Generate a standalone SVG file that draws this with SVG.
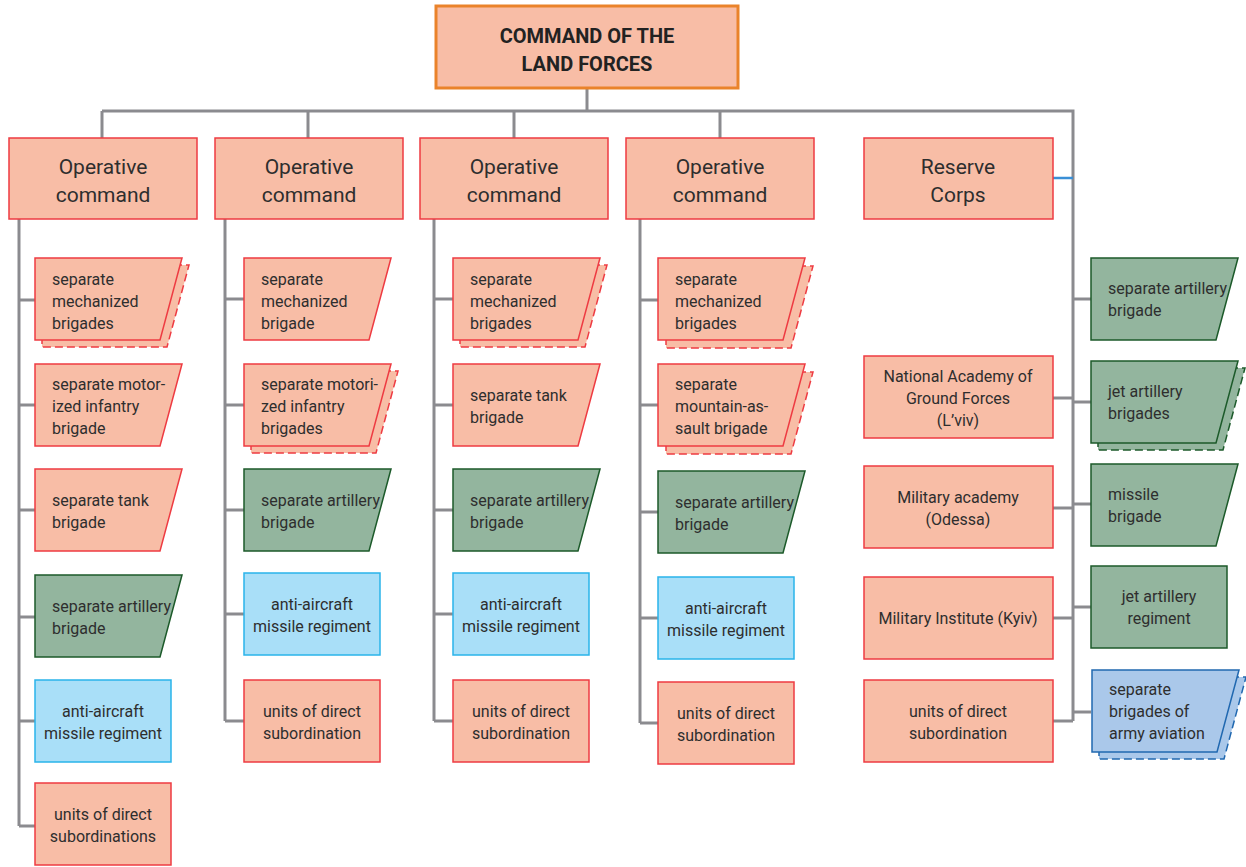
<svg xmlns="http://www.w3.org/2000/svg" width="1246" height="867" viewBox="0 0 1246 867">
<style>
.bg{fill:#ffffff}
.red{fill:#F8BDA6;stroke:#EE3B42;stroke-width:1.5}
.redsh{fill:#F8BDA6;stroke:#EE3B42;stroke-width:1.5;stroke-dasharray:8 4}
.top{fill:#F8BDA6;stroke:#EA832B;stroke-width:3}
.grn{fill:#93B59E;stroke:#1C5A2A;stroke-width:1.5}
.grnsh{fill:#93B59E;stroke:#1C5A2A;stroke-width:1.5;stroke-dasharray:8 4}
.lb{fill:#A9DFF8;stroke:#2AB4EA;stroke-width:1.5}
.av{fill:#AAC8EA;stroke:#2068B0;stroke-width:1.5}
.avsh{fill:#AAC8EA;stroke:#2068B0;stroke-width:1.5;stroke-dasharray:8 4}
.con{fill:none;stroke:#8B8B8F;stroke-width:3}
.conb{fill:none;stroke:#3A8FD6;stroke-width:2.5}
text{font-family:Roboto,"Liberation Sans",sans-serif;fill:#2E2E2E}
.t{font-size:16px}
.c{text-anchor:middle}
.h{font-size:21px;text-anchor:middle}
.title{font-size:20px;font-weight:bold;text-anchor:middle;fill:#222}
</style>
<defs>
<path id="pg" d="M0,0 h147 l-22,82 h-125 z"/>
</defs>
<rect class="bg" x="0" y="0" width="1246" height="867"/>

<g id="connectors">
<path class="con" d="M587,88 V111 M102,111 H1073 V721 M102,111 V138 M308,111 V138 M514,111 V138 M720,111 V138"/>
<path class="con" d="M19,219 V826 M19,300 H35 M19,405 H35 M19,510 H35 M19,617 H35 M19,721 H35 M19,826 H35"/>
<path class="con" d="M225,219 V721 M225,299 H244 M225,405 H244 M225,510 H244 M225,614 H244 M225,721 H244"/>
<path class="con" d="M434,219 V721 M434,299 H453 M434,405 H453 M434,510 H453 M434,614 H453 M434,721 H453"/>
<path class="con" d="M640,219 V723 M640,300 H658 M640,405 H658 M640,512 H658 M640,618 H658 M640,723 H658"/>
<path class="con" d="M1053,398 H1073 M1053,508 H1073 M1053,618 H1073 M1053,721 H1073 M1073,299 H1091 M1073,402 H1091 M1073,504 H1091 M1073,607 H1091 M1073,712 H1091"/>
<path class="conb" d="M1053,178 H1073"/>
</g>

<g id="command">
<rect class="top" x="436" y="6" width="302" height="82"/>
<text class="title" x="587" y="43">COMMAND OF THE</text>
<text class="title" x="587" y="71">LAND FORCES</text>
</g>

<g id="oc1"><rect class="red" x="9" y="138" width="188" height="81"/><text class="h" x="103" y="174">Operative</text><text class="h" x="103" y="202">command</text></g>
<g id="oc2"><rect class="red" x="215" y="138" width="188" height="81"/><text class="h" x="309" y="174">Operative</text><text class="h" x="309" y="202">command</text></g>
<g id="oc3"><rect class="red" x="420" y="138" width="188" height="81"/><text class="h" x="514" y="174">Operative</text><text class="h" x="514" y="202">command</text></g>
<g id="oc4"><rect class="red" x="626" y="138" width="188" height="81"/><text class="h" x="720" y="174">Operative</text><text class="h" x="720" y="202">command</text></g>
<g id="reserve"><rect class="red" x="864" y="138" width="189" height="81"/><text class="h" x="958" y="174">Reserve</text><text class="h" x="958" y="202">Corps</text></g>

<!-- column 1 -->
<g id="c1n1"><use href="#pg" class="redsh" x="42" y="265"/><use href="#pg" class="red" x="35" y="258"/>
<text class="t" x="52" y="285">separate</text><text class="t" x="52" y="307">mechanized</text><text class="t" x="52" y="329">brigades</text></g>
<g id="c1n2"><use href="#pg" class="red" x="35" y="364"/>
<text class="t" x="52" y="390">separate motor-</text><text class="t" x="52" y="412">ized infantry</text><text class="t" x="52" y="434">brigade</text></g>
<g id="c1n3"><use href="#pg" class="red" x="35" y="469"/>
<text class="t" x="52" y="506">separate tank</text><text class="t" x="52" y="528">brigade</text></g>
<g id="c1n4"><use href="#pg" class="grn" x="35" y="575"/>
<text class="t" x="52" y="612">separate artillery</text><text class="t" x="52" y="634">brigade</text></g>
<g id="c1n5"><rect class="lb" x="35" y="680" width="136" height="82"/>
<text class="t c" x="103" y="717">anti-aircraft</text><text class="t c" x="103" y="739">missile regiment</text></g>
<g id="c1n6"><rect class="red" x="35" y="783" width="136" height="82"/>
<text class="t c" x="103" y="820">units of direct</text><text class="t c" x="103" y="842">subordinations</text></g>

<!-- column 2 -->
<g id="c2n1"><use href="#pg" class="red" x="244" y="258"/>
<text class="t" x="261" y="285">separate</text><text class="t" x="261" y="307">mechanized</text><text class="t" x="261" y="329">brigade</text></g>
<g id="c2n2"><use href="#pg" class="redsh" x="251" y="371"/><use href="#pg" class="red" x="244" y="364"/>
<text class="t" x="261" y="390">separate motori-</text><text class="t" x="261" y="412">zed infantry</text><text class="t" x="261" y="434">brigades</text></g>
<g id="c2n3"><use href="#pg" class="grn" x="244" y="469"/>
<text class="t" x="261" y="506">separate artillery</text><text class="t" x="261" y="528">brigade</text></g>
<g id="c2n4"><rect class="lb" x="244" y="573" width="136" height="82"/>
<text class="t c" x="312" y="610">anti-aircraft</text><text class="t c" x="312" y="632">missile regiment</text></g>
<g id="c2n5"><rect class="red" x="244" y="680" width="136" height="82"/>
<text class="t c" x="312" y="717">units of direct</text><text class="t c" x="312" y="739">subordination</text></g>

<!-- column 3 -->
<g id="c3n1"><use href="#pg" class="redsh" x="460" y="265"/><use href="#pg" class="red" x="453" y="258"/>
<text class="t" x="470" y="285">separate</text><text class="t" x="470" y="307">mechanized</text><text class="t" x="470" y="329">brigades</text></g>
<g id="c3n2"><use href="#pg" class="red" x="453" y="364"/>
<text class="t" x="470" y="401">separate tank</text><text class="t" x="470" y="423">brigade</text></g>
<g id="c3n3"><use href="#pg" class="grn" x="453" y="469"/>
<text class="t" x="470" y="506">separate artillery</text><text class="t" x="470" y="528">brigade</text></g>
<g id="c3n4"><rect class="lb" x="453" y="573" width="136" height="82"/>
<text class="t c" x="521" y="610">anti-aircraft</text><text class="t c" x="521" y="632">missile regiment</text></g>
<g id="c3n5"><rect class="red" x="453" y="680" width="136" height="82"/>
<text class="t c" x="521" y="717">units of direct</text><text class="t c" x="521" y="739">subordination</text></g>

<!-- column 4 -->
<g id="c4n1"><use href="#pg" class="redsh" x="666" y="266"/><use href="#pg" class="red" x="658" y="258"/>
<text class="t" x="675" y="285">separate</text><text class="t" x="675" y="307">mechanized</text><text class="t" x="675" y="329">brigades</text></g>
<g id="c4n2"><use href="#pg" class="redsh" x="666" y="372"/><use href="#pg" class="red" x="658" y="364"/>
<text class="t" x="675" y="390">separate</text><text class="t" x="675" y="412">mountain-as-</text><text class="t" x="675" y="434">sault brigade</text></g>
<g id="c4n3"><use href="#pg" class="grn" x="658" y="471"/>
<text class="t" x="675" y="508">separate artillery</text><text class="t" x="675" y="530">brigade</text></g>
<g id="c4n4"><rect class="lb" x="658" y="577" width="136" height="82"/>
<text class="t c" x="726" y="614">anti-aircraft</text><text class="t c" x="726" y="636">missile regiment</text></g>
<g id="c4n5"><rect class="red" x="658" y="682" width="136" height="82"/>
<text class="t c" x="726" y="719">units of direct</text><text class="t c" x="726" y="741">subordination</text></g>

<!-- reserve left -->
<g id="r1"><rect class="red" x="864" y="356" width="189" height="82"/>
<text class="t c" x="958" y="382">National Academy of</text><text class="t c" x="958" y="404">Ground Forces</text><text class="t c" x="958" y="426">(L’viv)</text></g>
<g id="r2"><rect class="red" x="864" y="466" width="189" height="82"/>
<text class="t c" x="958" y="503">Military academy</text><text class="t c" x="958" y="525">(Odessa)</text></g>
<g id="r3"><rect class="red" x="864" y="577" width="189" height="82"/>
<text class="t c" x="958" y="624">Military Institute (Kyiv)</text></g>
<g id="r4"><rect class="red" x="864" y="680" width="189" height="82"/>
<text class="t c" x="958" y="717">units of direct</text><text class="t c" x="958" y="739">subordination</text></g>

<!-- reserve right -->
<g id="s1"><use href="#pg" class="grn" x="1091" y="258"/>
<text class="t" x="1108" y="294">separate artillery</text><text class="t" x="1108" y="316">brigade</text></g>
<g id="s2"><use href="#pg" class="grnsh" x="1098" y="368"/><use href="#pg" class="grn" x="1091" y="361"/>
<text class="t" x="1108" y="397">jet artillery</text><text class="t" x="1108" y="419">brigades</text></g>
<g id="s3"><use href="#pg" class="grn" x="1091" y="464"/>
<text class="t" x="1108" y="500">missile</text><text class="t" x="1108" y="522">brigade</text></g>
<g id="s4"><rect class="grn" x="1091" y="566" width="136" height="82"/>
<text class="t c" x="1159" y="602">jet artillery</text><text class="t c" x="1159" y="624">regiment</text></g>
<g id="s5"><use href="#pg" class="avsh" x="1099" y="677"/><use href="#pg" class="av" x="1092" y="670"/>
<text class="t" x="1109" y="695">separate</text><text class="t" x="1109" y="717">brigades of</text><text class="t" x="1109" y="739">army aviation</text></g>
</svg>
